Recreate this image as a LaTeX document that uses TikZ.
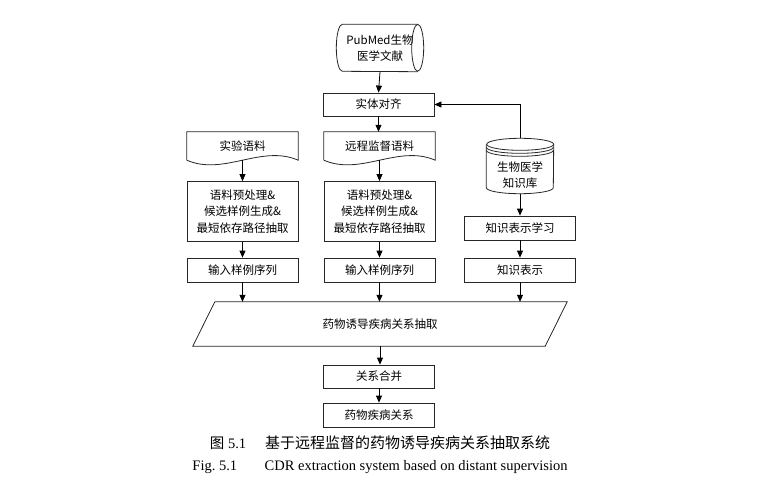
\documentclass[tikz,border=0pt]{standalone}
\usepackage{fontspec}
\setmainfont{Liberation Serif}
\newfontfamily\cjk{Noto Sans CJK SC}
\usetikzlibrary{
  arrows.meta,
}
\tikzset{
  box/.style = {
    rectangle,
    draw = black!85,
    line width = 0.8pt,
    minimum width = 111pt,
    minimum height = 24pt,
    inner sep = 0pt,
    align = center,
    font = \cjk\fontsize{11.5}{16.5}\selectfont
  },
  shapebox/.style = {
    rectangle,
    inner sep = 0pt,
    align = center,
    font = \cjk\fontsize{11.5}{16.5}\selectfont
  },
  outline/.style = {
    draw = black!85,
    line width = 0.8pt
  },
  line/.style = {
    -{Triangle[length = 7pt, width = 6pt]},
    line width = 0.8pt
  },
  caption/.style = {
    inner sep = 0pt,
    font = \fontsize{14.5}{16}\selectfont
  },
}

\begin{document}
\begin{tikzpicture}[x = 1pt, y = 1pt]
  \useasboundingbox (0,0) rectangle (776,-482);
  % top: literature and alignment
  \node[shapebox, minimum width = 87pt, minimum height = 47pt] (P) at (380,-48)
    {PubMed生物\\医学文献};
  \draw[outline] ([xshift = -6pt]P.north east)
    arc[start angle = 90, end angle = 450, x radius = 6pt, y radius = 23.5pt];
  \draw[outline] ([xshift = -6pt]P.north east) -- ([xshift = 6pt]P.north west)
    arc[start angle = 90, end angle = 270, x radius = 6pt, y radius = 23.5pt]
    -- ([xshift = -6pt]P.south east);
  \node[box, minimum height = 23pt] (E) at (378.5,-104.5) {实体对齐};

  % corpora
  \node[shapebox, minimum width = 111pt, minimum height = 28pt] (D1) at (242.5,-146)
    {实验语料};
  \node[shapebox, minimum width = 111pt, minimum height = 28pt] (D2) at (379.5,-146)
    {远程监督语料};
  \foreach \d in {D1, D2} {
    \draw[outline] (\d.south west) -- (\d.north west) -- (\d.north east) -- (\d.south east)
      .. controls +(-37pt,16pt) and +(37pt,-16pt) .. (\d.south west);
  }

  % knowledge base
  \node[shapebox, minimum width = 67pt, minimum height = 55pt] (K) at (520,-166) {};
  \node[shapebox] (Kt) at ([yshift = -9pt]K.center) {生物医学\\知识库};
  \draw[outline] ([yshift = -6pt]K.north west) -- ([yshift = 6pt]K.south west)
    arc[start angle = 180, end angle = 360, x radius = 33.5pt, y radius = 6pt]
    -- ([yshift = -6pt]K.north east);
  \draw[outline] ([yshift = -6pt]K.north east)
    arc[start angle = 0, end angle = 360, x radius = 33.5pt, y radius = 6pt];
  \foreach \s in {-9pt, -12pt} {
    \draw[outline] ([yshift = \s]K.north west)
      arc[start angle = 180, end angle = 360, x radius = 33.5pt, y radius = 6pt];
  }

  % preprocessing
  \node[box, minimum height = 60pt] (B1) at (242.5,-211.5)
    {语料预处理\&\\候选样例生成\&\\最短依存路径抽取};
  \node[box, minimum height = 60pt] (B2) at (379.5,-211.5)
    {语料预处理\&\\候选样例生成\&\\最短依存路径抽取};
  \node[box] (L1) at (520,-228) {知识表示学习};
  \node[box] (I1) at (242.5,-270) {输入样例序列};
  \node[box] (I2) at (379.5,-270) {输入样例序列};
  \node[box] (L2) at (520,-270) {知识表示};

  % extraction
  \node[shapebox, minimum width = 374pt, minimum height = 44pt] (R) at (380,-324)
    {药物诱导疾病关系抽取};
  \draw[outline] (R.south west) -- ([xshift = 22pt]R.north west) -- (R.north east)
    -- ([xshift = -22pt]R.south east) -- cycle;
  \node[box, minimum height = 23pt] (M) at (379,-376.5) {关系合并};
  \node[box] (O) at (379,-415) {药物疾病关系};

  \draw[line] (P.south) -- (E.north);
  \draw[line] (E.south) -- (E.south |- D2.north);
  \draw[line] (K.north) |- (E.east);
  \draw[line] (D1.south) -- (B1.north);
  \draw[line] (D2.south) -- (B2.north);
  \draw[line] (K.south) -- (L1.north);
  \draw[line] (B1.south) -- (I1.north);
  \draw[line] (B2.south) -- (I2.north);
  \draw[line] (L1.south) -- (L2.north);
  \foreach \b in {I1, I2, L2} {
    \draw[line] (\b.south) -- (\b.south |- R.north);
  }
  \draw[line] (R.south) -- (R.south |- M.north);
  \draw[line] (M.south) -- (O.north);

  % caption
  \node[caption] (C1) at (380,-443)
    {{\cjk 图}~5.1\hspace{1.3em}{\cjk\fontsize{15}{16}\selectfont 基于远程监督的药物诱导疾病关系抽取系统}};
  \node[caption] (C2) at (380,-467)
    {Fig.~5.1\hspace{1.9em}CDR extraction system based on distant supervision};
\end{tikzpicture}
\end{document}
